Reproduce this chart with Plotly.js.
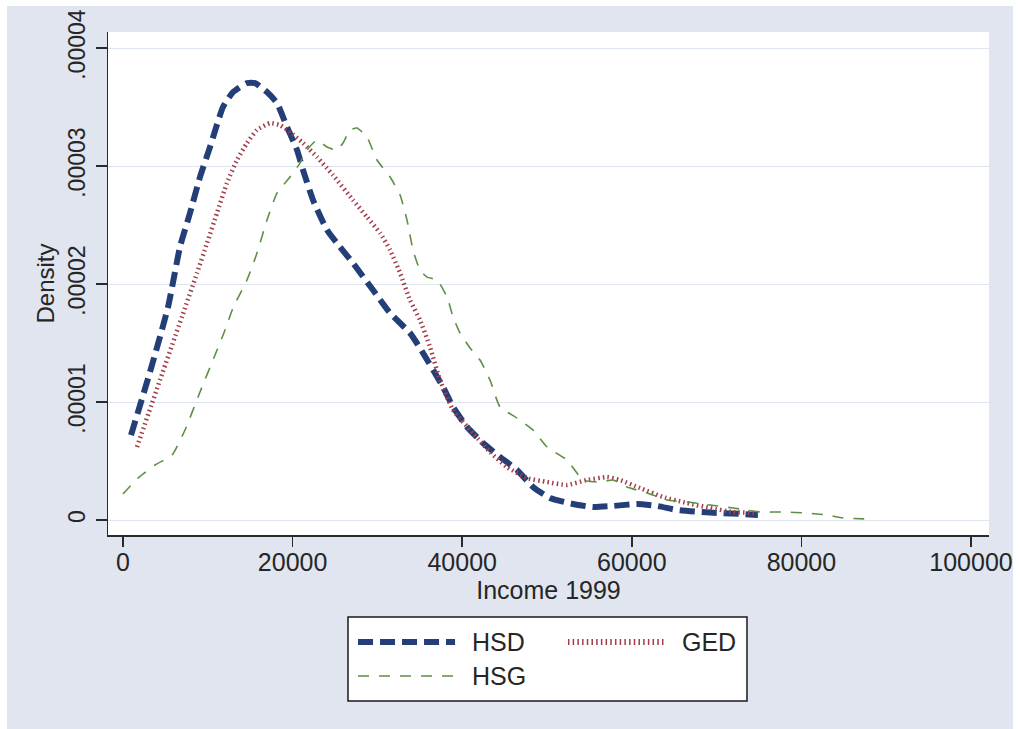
<!DOCTYPE html>
<html>
<head>
<meta charset="utf-8">
<script src="https://cdn.plot.ly/plotly-3.0.1.min.js"></script>
<style>
  html, body { margin: 0; padding: 0; background: #ffffff; width: 1020px; height: 729px; overflow: hidden; }
  #chart { position: absolute; left: 7px; top: 6px; width: 1006px; height: 723px; }
</style>
</head>
<body>
<div id="chart"></div>
<script>
// ---- data ----
const hsdX = [943, 3180, 5310, 6720, 7900, 9080, 10260, 11790, 12970, 14620, 15570, 16980, 18160, 19340, 20520, 21230, 22410, 24060, 25590, 27120, 29480, 31490, 33840, 35020, 37740, 38920, 40570, 42450, 44460, 46460, 48350, 50350, 53070, 55420, 57780, 60610, 62970, 65330, 68040, 70400, 73110, 74880];
const hsdY = [7.20e-6, 1.254e-5, 1.805e-5, 2.314e-5, 2.602e-5, 2.907e-5, 3.161e-5, 3.500e-5, 3.627e-5, 3.703e-5, 3.703e-5, 3.627e-5, 3.534e-5, 3.331e-5, 3.136e-5, 2.966e-5, 2.712e-5, 2.458e-5, 2.314e-5, 2.178e-5, 1.949e-5, 1.754e-5, 1.585e-5, 1.458e-5, 1.127e-5, 9.58e-6, 7.88e-6, 6.53e-6, 5.34e-6, 4.24e-6, 2.80e-6, 1.86e-6, 1.36e-6, 1.10e-6, 1.19e-6, 1.36e-6, 1.19e-6, 8.5e-7, 6.8e-7, 5.9e-7, 5.1e-7, 4.2e-7];

const gedX = [1650, 4360, 7310, 8730, 9910, 11080, 12260, 13440, 14620, 15800, 17330, 18510, 19690, 21230, 22880, 24760, 27120, 28770, 30310, 31490, 32670, 33840, 35020, 36200, 37380, 38920, 41270, 43280, 45280, 47640, 50000, 52360, 54720, 57080, 58610, 60970, 63680, 66510, 69220, 71930, 74880];
const gedY = [6.19e-6, 1.186e-5, 1.797e-5, 2.093e-5, 2.347e-5, 2.602e-5, 2.856e-5, 3.051e-5, 3.195e-5, 3.305e-5, 3.364e-5, 3.347e-5, 3.288e-5, 3.195e-5, 3.076e-5, 2.924e-5, 2.712e-5, 2.568e-5, 2.432e-5, 2.288e-5, 2.093e-5, 1.864e-5, 1.695e-5, 1.466e-5, 1.186e-5, 9.32e-6, 7.37e-6, 5.76e-6, 4.49e-6, 3.56e-6, 3.22e-6, 2.97e-6, 3.39e-6, 3.64e-6, 3.39e-6, 2.71e-6, 1.95e-6, 1.44e-6, 1.02e-6, 6.8e-7, 5.9e-7];

const hsgX = [0, 1770, 3770, 5780, 7310, 9080, 10850, 12030, 12970, 14620, 15800, 16980, 18160, 19690, 20870, 21700, 22880, 24060, 25240, 25940, 26770, 27590, 28770, 29950, 31490, 32670, 33490, 34200, 35020, 35850, 37030, 38210, 38920, 39740, 40920, 42100, 43280, 44460, 46460, 48350, 50000, 52360, 54250, 56250, 57780, 59430, 61790, 64150, 66510, 69220, 71930, 75120, 77830, 80660, 83020, 84910, 88440];
const hsgY = [2.20e-6, 3.56e-6, 4.66e-6, 5.51e-6, 7.63e-6, 1.085e-5, 1.398e-5, 1.610e-5, 1.797e-5, 2.034e-5, 2.263e-5, 2.542e-5, 2.771e-5, 2.907e-5, 3.025e-5, 3.136e-5, 3.220e-5, 3.161e-5, 3.136e-5, 3.195e-5, 3.305e-5, 3.322e-5, 3.246e-5, 3.051e-5, 2.907e-5, 2.754e-5, 2.542e-5, 2.288e-5, 2.119e-5, 2.059e-5, 2.034e-5, 1.890e-5, 1.720e-5, 1.585e-5, 1.458e-5, 1.356e-5, 1.186e-5, 9.58e-6, 8.64e-6, 7.63e-6, 6.19e-6, 5.08e-6, 3.39e-6, 3.22e-6, 3.39e-6, 2.80e-6, 2.29e-6, 1.69e-6, 1.53e-6, 1.27e-6, 1.02e-6, 6.8e-7, 6.8e-7, 5.9e-7, 4.2e-7, 1.7e-7, 8e-8];

const seriesNames = ["HSD", "GED", "HSG"];
const xTickVals = [0, 20000, 40000, 60000, 80000, 100000];
const xTickText = ["0", "20000", "40000", "60000", "80000", "100000"];
const yTickVals = [0, 0.00001, 0.00002, 0.00003, 0.00004];
const yTickText = ["0", ".00001", ".00002", ".00003", ".00004"];
const xTitle = "Income 1999";
const yTitle = "Density";

// ---- styles ----
const FONT = "Liberation Sans, Arial, sans-serif";
const TXT = "#262626";
const styles = {
  HSD: { color: "#243f78", width: 6, dash: "15px,7px" },
  GED: { color: "#a23e4a", width: 4.5, dash: "1.5px,3.2px" },
  HSG: { color: "#5f8f45", width: 1.6, dash: "11px,10px" }
};

const traces = [
  { x: hsdX, y: hsdY, name: seriesNames[0] },
  { x: gedX, y: gedY, name: seriesNames[1] },
  { x: hsgX, y: hsgY, name: seriesNames[2] }
].map(t => ({
  type: "scatter", mode: "lines", x: t.x, y: t.y, name: t.name, showlegend: false,
  line: { color: styles[t.name].color, width: styles[t.name].width, dash: styles[t.name].dash, shape: "spline", smoothing: 0.5 },
  hoverinfo: "skip"
}));

// custom legend (paper coords relative to plot area)
const legRow1 = -0.2127, legRow2 = -0.2803;
const legendItems = [
  { name: seriesNames[0], x0: 0.2838, x1: 0.3939, tx: 0.4109, y: legRow1 },
  { name: seriesNames[1], x0: 0.5221, x1: 0.6322, tx: 0.6493, y: legRow1 },
  { name: seriesNames[2], x0: 0.2838, x1: 0.3939, tx: 0.4109, y: legRow2 }
];
const shapes = [
  { type: "rect", xref: "paper", yref: "paper", x0: 0.2724, x1: 0.7253, y0: -0.3300, y1: -0.1630,
    fillcolor: "#ffffff", line: { color: "#1a1a1a", width: 1.5 }, layer: "above" }
];
const annotations = [];
legendItems.forEach(it => {
  const s = styles[it.name];
  shapes.push({ type: "line", xref: "paper", yref: "paper", x0: it.x0, x1: it.x1, y0: it.y, y1: it.y,
    line: { color: s.color, width: it.name === "GED" ? 6 : s.width, dash: s.dash }, layer: "above" });
  annotations.push({ xref: "paper", yref: "paper", x: it.tx, y: it.y, xanchor: "left", yanchor: "middle",
    text: it.name, showarrow: false, font: { family: FONT, size: 25, color: TXT } });
});

const layout = {
  width: 1006, height: 723,
  paper_bgcolor: "#e0e5ef",
  plot_bgcolor: "#ffffff",
  margin: { l: 101, r: 24, t: 26, b: 194, pad: 0, autoexpand: false },
  font: { family: FONT, color: TXT, size: 24 },
  showlegend: false,
  xaxis: {
    range: [-1770, 102120], showgrid: false, zeroline: false, automargin: true,
    showline: true, linecolor: "#2a2a2a", linewidth: 1.5, mirror: false,
    ticks: "outside", ticklen: 10, tickwidth: 1.5, tickcolor: "#2a2a2a",
    tickvals: xTickVals, ticktext: xTickText,
    ticklabelstandoff: -6,
    tickfont: { family: FONT, size: 25, color: TXT },
    title: { text: xTitle, font: { family: FONT, size: 25, color: TXT }, standoff: 0 }
  },
  yaxis: {
    range: [-1.27e-6, 4.136e-5], showgrid: true, gridcolor: "#dfe5ef", gridwidth: 1, zeroline: false, automargin: true,
    showline: true, linecolor: "#2a2a2a", linewidth: 1.5, mirror: false,
    ticks: "outside", ticklen: 11, tickwidth: 1.5, tickcolor: "#2a2a2a",
    tickvals: yTickVals, ticktext: yTickText, tickangle: -90,
    ticklabelstandoff: 1,
    tickfont: { family: FONT, size: 23, color: TXT },
    title: { text: yTitle, font: { family: FONT, size: 24, color: TXT }, standoff: 3 }
  },
  shapes: shapes,
  annotations: annotations
};

Plotly.newPlot("chart", traces, layout, { displayModeBar: false, staticPlot: true });
</script>
</body>
</html>
